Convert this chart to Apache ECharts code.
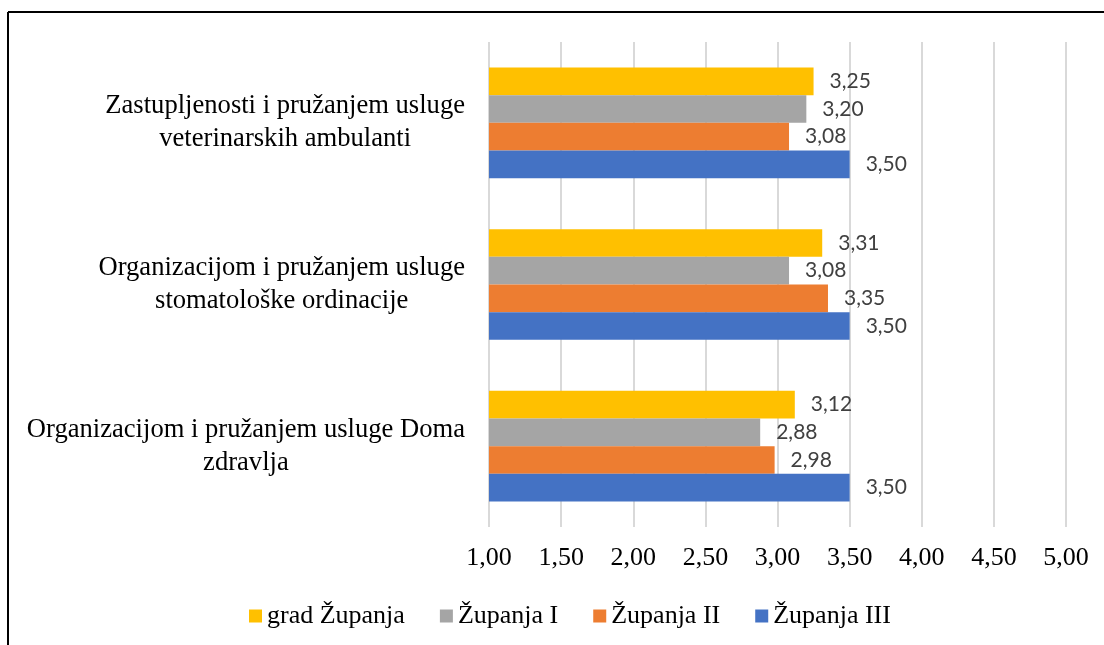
<!DOCTYPE html>
<html>
<head>
<meta charset="utf-8">
<script src="https://cdn.jsdelivr.net/npm/echarts@6/dist/echarts.min.js"></script>
<style>html,body{margin:0;padding:0;background:#fff;}#c{width:1104px;height:645px;}</style>
</head>
<body>
<div id="c"></div>
<script>
const categories = [
  'Zastupljenosti i pružanjem usluge\nveterinarskih ambulanti',
  'Organizacijom i pružanjem usluge\nstomatološke ordinacije',
  'Organizacijom i pružanjem usluge Doma\nzdravlja'
];
const seriesNames = ['grad Županja', 'Županja I', 'Županja II', 'Županja III'];
const gradZupanja = [3.25, 3.31, 3.12];
const zupanjaI = [3.20, 3.08, 2.88];
const zupanjaII = [3.08, 3.35, 2.98];
const zupanjaIII = [3.50, 3.50, 3.50];
const colors = ['#FFC000', '#A5A5A5', '#ED7D31', '#4472C4'];
const xMin = 1, xMax = 5, xStep = 0.5;

const fmt = v => Number(v).toFixed(2).replace('.', ',');
const serif = 'Liberation Serif';
const allData = [gradZupanja, zupanjaI, zupanjaII, zupanjaIII];

const chart = echarts.init(document.getElementById('c'), null, {renderer: 'canvas'});
chart.setOption({
  animation: false,
  backgroundColor: '#fff',
  graphic: [
    {type: 'line', shape: {x1: 8, y1: 12, x2: 1104, y2: 12}, style: {stroke: '#000', lineWidth: 2}},
    {type: 'line', shape: {x1: 8, y1: 12, x2: 8, y2: 645}, style: {stroke: '#000', lineWidth: 2}}
  ],
  legend: {
    data: seriesNames,
    left: 244,
    top: 598,
    icon: 'rect',
    itemWidth: 13,
    itemHeight: 13,
    itemGap: 35,
    textStyle: {fontFamily: serif, fontSize: 26, color: '#000'}
  },
  grid: {left: 489, right: 38, top: 42, bottom: 118, containLabel: false},
  xAxis: {
    type: 'value',
    min: xMin, max: xMax, interval: xStep,
    axisLine: {show: false},
    axisTick: {show: false},
    splitLine: {show: true, lineStyle: {color: '#D9D9D9', width: 2}},
    axisLabel: {formatter: fmt, fontFamily: serif, fontSize: 26, color: '#000', margin: 18}
  },
  yAxis: {
    type: 'category',
    inverse: true,
    data: categories,
    axisLine: {show: false},
    axisTick: {show: false},
    axisLabel: {
      margin: 24,
      align: 'right',
      formatter: v => v.split('\n').map(l => '{c|' + l + '}').join('\n'),
      rich: {c: {align: 'center', fontFamily: serif, fontSize: 26.6, color: '#000', lineHeight: 33}}
    }
  },
  series: seriesNames.map((name, i) => ({
    name: name,
    type: 'bar',
    data: allData[i],
    barGap: '0%',
    barCategoryGap: '31.5%',
    itemStyle: {color: colors[i]},
    label: {
      show: true,
      position: 'right',
      distance: 16,
      formatter: p => fmt(p.value),
      fontFamily: 'Lato',
      fontSize: 21,
      color: '#404040'
    }
  }))
});
</script>
</body>
</html>
